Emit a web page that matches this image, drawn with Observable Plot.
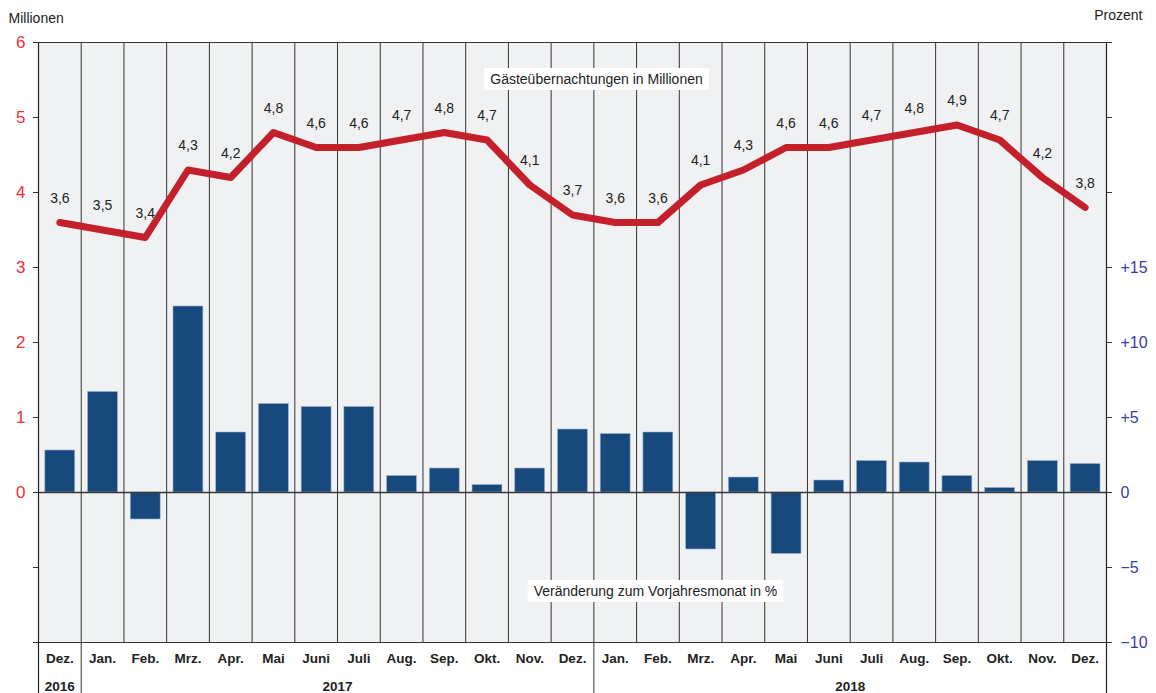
<!DOCTYPE html>
<html>
<head>
<meta charset="utf-8">
<script src="https://cdn.jsdelivr.net/npm/d3@7"></script>
<script src="https://cdn.jsdelivr.net/npm/@observablehq/plot@0.6"></script>
<style>
  html, body { margin: 0; padding: 0; background: #fff; overflow: hidden; }
  svg { display: block; }
</style>
</head>
<body>
<div id="chart"></div>
<script>
// Month labels (Dez. 2016 … Dez. 2018)
const months = ["Dez.","Jan.","Feb.","Mrz.","Apr.","Mai","Juni","Juli","Aug.","Sep.","Okt.","Nov.","Dez.",
                "Jan.","Feb.","Mrz.","Apr.","Mai","Juni","Juli","Aug.","Sep.","Okt.","Nov.","Dez."];
// Gästeübernachtungen in Millionen (line, left axis)
const nights = [3.6,3.5,3.4,4.3,4.2,4.8,4.6,4.6,4.7,4.8,4.7,4.1,3.7,
                3.6,3.6,4.1,4.3,4.6,4.6,4.7,4.8,4.9,4.7,4.2,3.8];
// Veränderung zum Vorjahresmonat in % (bars, right axis)
const change = [2.8,6.7,-1.8,12.4,4.0,5.9,5.7,5.7,1.1,1.6,0.5,1.6,4.2,
                3.9,4.0,-3.8,1.0,-4.1,0.8,2.1,2.0,1.1,0.3,2.1,1.9];
// Year labels and the month index spans they cover
const yearLabels = ["2016","2017","2018"];
const yearStart = [0, 1, 13];
const yearEnd = [1, 13, 25];
// Axis ticks
const leftTicks = [-2,-1,0,1,2,3,4,5,6];         // Millionen
const rightTickPct = [-10,-5,0,5,10,15,20,25,30]; // Prozent
const PCT_PER_MIO = 5; // 1 Mio on the left axis corresponds to 5 % on the right axis

const data = months.map((m, i) => ({i, m, n: nights[i], c: change[i]}));
const years = yearLabels.map((label, k) => ({label, mid: (yearStart[k] + yearEnd[k]) / 2}));

const fmt = v => v.toFixed(1).replace(".", ",");
const pctFmt = v => { const p = Math.round(v * PCT_PER_MIO); if (p > 15) return ""; return p > 0 ? "+" + p : p < 0 ? "\u2212" + (-p) : "0"; };

const TITLE_TOP = "Gästeübernachtungen in Millionen";
const TITLE_BOTTOM = "Veränderung zum Vorjahresmonat in %";

const chart = Plot.plot({
  width: 1156,
  height: 693,
  marginTop: 42,
  marginLeft: 38,
  marginRight: 50,
  marginBottom: 51,
  style: {fontFamily: "'Liberation Sans', Arial, sans-serif", background: "white", overflow: "visible"},
  x: {type: "linear", domain: [0, months.length], axis: null},
  y: {domain: [-2, 6], axis: null},
  marks: [
    Plot.frame({fill: "#f0f1f3", stroke: null}),
    // column separators
    Plot.ruleX(d3.range(1, months.length), {stroke: "#333", strokeWidth: 1}),
    // year separators extending through the label rows
    Plot.ruleX(yearStart.slice(1), {insetTop: 600, insetBottom: -51, stroke: "#333", strokeWidth: 1}),
    // bars (percent, mapped onto the left scale)
    Plot.rectY(data, {
      x1: d => d.i + 0.16, x2: d => d.i + 0.86,
      y1: 0, y2: d => d.c / PCT_PER_MIO,
      fill: "#17497c", stroke: "#9fb3cc", strokeWidth: 0.6
    }),
    Plot.ruleY([0], {stroke: "#3a3a3a", strokeWidth: 1.5}),
    Plot.ruleY([6, -2], {stroke: "#333", strokeWidth: 1}),
    // line
    Plot.lineY(data, {
      x: d => d.i + 0.5, y: "n",
      stroke: "#c3202b", strokeWidth: 7, strokeLinecap: "round", strokeLinejoin: "round"
    }),
    Plot.text(data, {
      x: d => d.i + 0.5, y: "n", text: d => fmt(d.n),
      dy: -24, fontSize: 14, fill: "#222"
    }),
    // left axis
    Plot.axisY({
      anchor: "left", ticks: leftTicks, tickSize: 5, tickPadding: 8,
      tickFormat: v => v >= 0 ? String(v) : "",
      fill: "#ee2e38", stroke: "#333", fontSize: 17, label: null
    }),
    // right axis
    Plot.axisY({
      anchor: "right", ticks: rightTickPct.map(p => p / PCT_PER_MIO), tickSize: 5, tickPadding: 9,
      tickFormat: pctFmt,
      fill: "#3a3c9c", stroke: "#333", fontSize: 16, label: null
    }),
    // axis lines extending down through label rows
    Plot.ruleX([0, months.length], {insetBottom: -51, stroke: "#222", strokeWidth: 1.2}),
    // month and year labels
    Plot.text(data, {
      x: d => d.i + 0.5, text: "m", frameAnchor: "bottom", lineAnchor: "middle",
      dy: 16, fontWeight: "bold", fontSize: 13.5, fill: "#222"
    }),
    Plot.text(years, {
      x: "mid", text: "label", frameAnchor: "bottom", lineAnchor: "middle",
      dy: 44, fontWeight: "bold", fontSize: 13.5, fill: "#222"
    }),
    // axis titles
    Plot.text(["Millionen"], {
      frameAnchor: "top-left", textAnchor: "start", lineAnchor: "middle",
      dx: -30, dy: -24, fontSize: 14, fill: "#222"
    }),
    Plot.text(["Prozent"], {
      frameAnchor: "top-right", textAnchor: "end", lineAnchor: "middle",
      dx: 36, dy: -27, fontSize: 14, fill: "#222"
    }),
    // annotations
    Plot.text([TITLE_TOP], {
      frameAnchor: "top", lineAnchor: "middle", dx: 24, dy: 37, fontSize: 14, fill: "#222"
    }),
    Plot.text([TITLE_BOTTOM], {
      frameAnchor: "bottom", lineAnchor: "middle", dx: 83, dy: -51, fontSize: 14, fill: "#222"
    })
  ]
});

document.getElementById("chart").appendChild(chart);

// white boxes behind the annotation texts
const svg = d3.select(chart);
svg.selectAll("text").each(function() {
  const t = this.textContent;
  if (t === TITLE_TOP || t === TITLE_BOTTOM) {
    const b = this.getBBox();
    const parent = this.parentNode;
    const r = document.createElementNS("http://www.w3.org/2000/svg", "rect");
    const tr = this.getAttribute("transform") || "";
    r.setAttribute("x", b.x - 6);
    r.setAttribute("y", b.y - 3);
    r.setAttribute("width", b.width + 12);
    r.setAttribute("height", b.height + 6);
    r.setAttribute("fill", "white");
    if (tr) r.setAttribute("transform", tr);
    parent.insertBefore(r, this);
  }
});
</script>
</body>
</html>
